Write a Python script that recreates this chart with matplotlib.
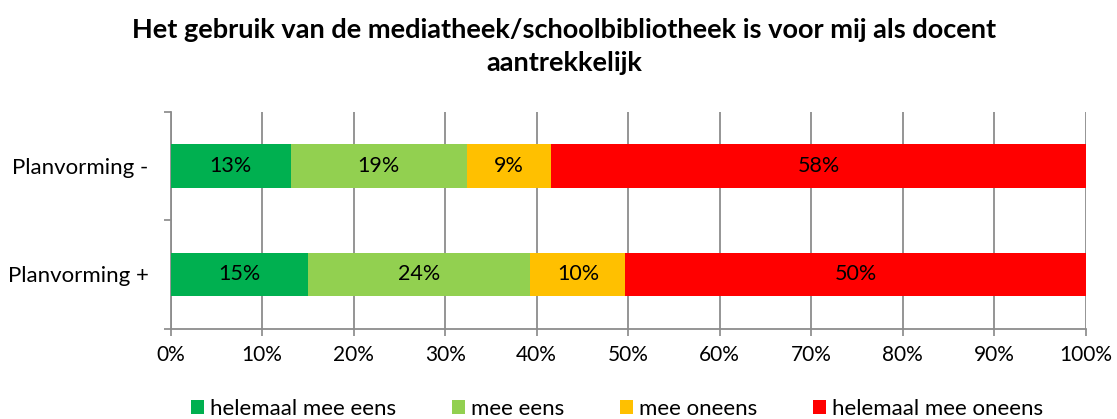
import matplotlib
matplotlib.use("Agg")
import matplotlib.pyplot as plt
from matplotlib.patches import Patch

categories = ["Planvorming +", "Planvorming -"]
series_names = ["helemaal mee eens", "mee eens", "mee oneens", "helemaal mee oneens"]
values = {
    "helemaal mee eens": [15.0, 13.1],
    "mee eens": [24.3, 19.3],
    "mee oneens": [10.4, 9.2],
    "helemaal mee oneens": [50.3, 58.4],
}
labels = {
    "helemaal mee eens": ["15%", "13%"],
    "mee eens": ["24%", "19%"],
    "mee oneens": ["10%", "9%"],
    "helemaal mee oneens": ["50%", "58%"],
}
colors = ["#00B050", "#92D050", "#FFC000", "#FF0000"]
xticks = [0, 10, 20, 30, 40, 50, 60, 70, 80, 90, 100]
xticklabels = [f"{t}%" for t in xticks]
title = "Het gebruik van de mediatheek/schoolbibliotheek is voor mij als docent\naantrekkelijk"

plt.rcParams["font.family"] = ["Lato", "DejaVu Sans"]

fig = plt.figure(figsize=(11.17, 4.19), dpi=100)
ax = fig.add_axes([0.1528, 0.2155, 0.972 - 0.1528, 0.7334 - 0.2155])

ypos = list(range(len(categories)))
left = [0.0] * len(categories)
for name, col in zip(series_names, colors):
    vals = values[name]
    ax.barh(ypos, vals, left=left, height=0.4, color=col, zorder=3)
    for y, v, l, lab in zip(ypos, vals, left, labels[name]):
        ax.text(l + v / 2, y, lab, ha="center", va="center", fontsize=15.5, color="black", zorder=4)
    left = [a + b for a, b in zip(left, vals)]

ax.set_xlim(0, 100)
ax.set_ylim(-0.5, 1.5)
ax.set_xticks(xticks)
ax.set_xticklabels(xticklabels, fontsize=15)
ax.set_yticks(ypos)
ax.set_yticklabels(categories, fontsize=16)
ax.set_yticks([-0.5, 0.5, 1.5], minor=True)
ax.tick_params(axis="y", which="major", length=0, pad=16)
ax.tick_params(axis="y", which="minor", length=5, color="#888888", width=1.2)
ax.tick_params(axis="x", which="major", length=5, color="#888888", width=1.2, pad=7)
ax.grid(axis="x", color="#8c8c8c", linewidth=1.3, zorder=0)
for s in ["top", "right"]:
    ax.spines[s].set_visible(False)
for s in ["left", "bottom"]:
    ax.spines[s].set_color("#8c8c8c")
    ax.spines[s].set_linewidth(1.3)

fig.text(0.505, 0.890, title, ha="center", va="center", fontsize=19.5, fontweight="bold", linespacing=1.45)

handles = [Patch(facecolor=c, edgecolor="none") for c in colors]
fig.legend(handles, series_names, loc="center", bbox_to_anchor=(0.5524, 0.024), ncol=4,
           frameon=False, fontsize=16, handlelength=0.6, handleheight=0.6,
           handletextpad=0.27, columnspacing=2.5, borderpad=0)

fig.savefig("out.png", dpi=100)
